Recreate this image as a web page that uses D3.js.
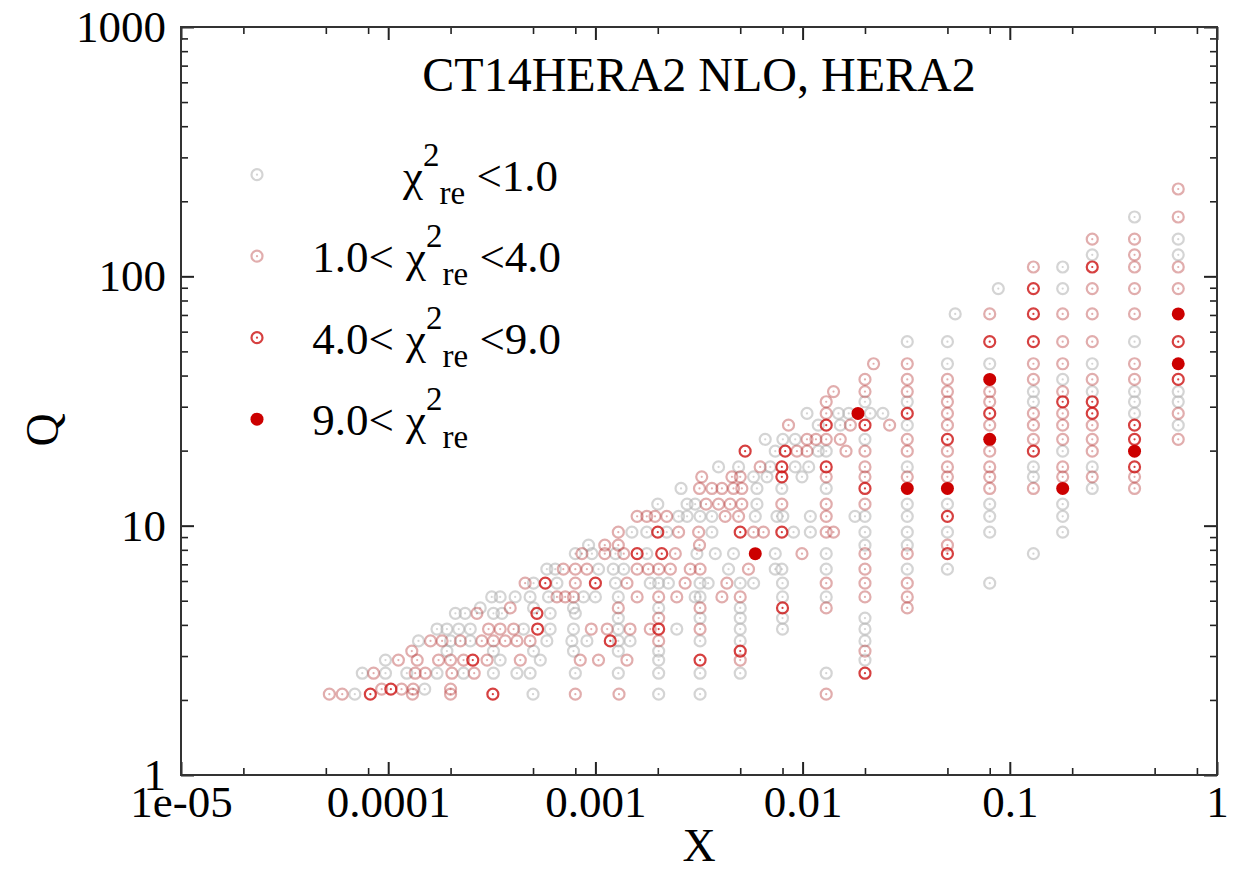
<!DOCTYPE html>
<html>
<head>
<meta charset="utf-8">
<script src="https://cdn.jsdelivr.net/npm/d3@7"></script>
<style>
body { margin: 0; background: #fff; }
text { font-family: "Liberation Serif", "Times New Roman", serif; fill: #000; }
</style>
</head>
<body>
<svg id="chart" width="1251" height="869"></svg>
<script>
// x-Q points of the HERA2 data, split by chi^2_re of each point
var chiBelow1 = [
  [6.9e-5,2.11],[5.0e-4,2.11],[2.02e-3,2.11],[3.2e-3,2.11],
  [1.5e-4,2.21],
  [7.5e-5,2.56],[9.7e-5,2.56],[1.23e-4,2.56],[1.72e-4,2.56],[2.31e-4,2.56],[3.22e-4,2.56],[4.18e-4,2.56],[4.84e-4,2.56],[8.0e-4,2.56],[1.29e-3,2.56],[2.02e-3,2.56],[3.2e-3,2.56],[5.0e-3,2.56],[1.3e-2,2.56],
  [9.7e-5,2.89],[3.47e-4,2.89],[5.42e-4,2.89],[2.02e-3,2.89],[0.02,2.89],
  [1.92e-4,3.14],[3.22e-4,3.14],[5.03e-4,3.14],[7.84e-4,3.14],[1.29e-3,3.14],[2.02e-3,3.14],
  [1.4e-4,3.45],[2.0e-4,3.45],[2.49e-4,3.45],[5.83e-4,3.45],[7.7e-4,3.45],[9.1e-4,3.45],[1.29e-3,3.45],[1.47e-3,3.45],[3.2e-3,3.45],[5.0e-3,3.45],[0.02,3.45],
  [1.72e-4,3.85],[1.92e-4,3.85],[2.19e-4,3.85],[2.49e-4,3.85],[4.5e-4,3.85],[6.05e-4,3.85],[7.84e-4,3.85],[1.29e-3,3.85],[2.47e-3,3.85],[5.0e-3,3.85],[8.0e-3,3.85],[0.02,3.85],
  [1.29e-3,4.26],[3.2e-3,4.26],[5.0e-3,4.26],[8.0e-3,4.26],[0.02,4.26],
  [2.11e-4,4.45],[2.35e-4,4.45],[3.22e-4,4.45],[3.54e-4,4.45],[6.05e-4,4.45],[8.0e-4,4.45],
  [2.78e-4,4.68],[5.03e-4,4.68],[7.84e-4,4.68],[2.02e-3,4.68],[5.0e-3,4.68],
  [3.16e-4,5.18],[3.47e-4,5.18],[4.1e-4,5.18],[4.84e-4,5.18],[5.94e-4,5.18],[8.76e-4,5.18],[1.0e-3,5.18],[1.29e-3,5.18],[3.03e-3,5.18],[3.2e-3,5.18],[8.0e-3,5.18],[1.3e-2,5.18],
  [5.03e-4,5.88],[6.52e-4,5.88],[1.25e-3,5.88],[1.84e-3,5.88],[2.02e-3,5.88],[2.25e-3,5.88],[3.2e-3,5.88],[3.5e-3,5.88],[5.0e-3,5.88],[5.8e-3,5.88],[8.0e-3,5.88],[0.08,5.88],
  [5.83e-4,6.69],[6.4e-4,6.69],[1.035e-3,6.69],[1.22e-3,6.69],[1.37e-3,6.69],[4.39e-3,6.69],[7.38e-3,6.69],[7.94e-3,6.69],[1.3e-2,6.69],[0.032,6.69],[0.05,6.69],
  [8.0e-4,7.72],[9.62e-4,7.72],[1.25e-3,7.72],[1.77e-3,7.72],[3.09e-3,7.72],[3.79e-3,7.72],[4.64e-3,7.72],[7.38e-3,7.72],[1.3e-2,7.72],[0.13,7.72],
  [9.27e-4,8.35],[0.02,8.35],[0.032,8.35],
  [1.5e-3,9.42],[1.77e-3,9.42],[2.21e-3,9.42],[3.65e-3,9.42],[9.04e-3,9.42],[1.09e-2,9.42],[0.02,9.42],[0.032,9.42],[0.05,9.42],[0.08,9.42],[0.18,9.42],
  [2.52e-3,10.9],[2.77e-3,10.9],[3.2e-3,10.9],[3.65e-3,10.9],[5.91e-3,10.9],[7.52e-3,10.9],[8.03e-3,10.9],[1.09e-2,10.9],[1.79e-2,10.9],[0.02,10.9],[0.032,10.9],[0.08,10.9],[0.18,10.9],
  [2.0e-3,12.2],[2.77e-3,12.2],[3.03e-3,12.2],[6.02e-3,12.2],[0.032,12.2],[0.05,12.2],[0.08,12.2],[0.18,12.2],
  [2.59e-3,14.1],[6.02e-3,14.1],[7.94e-3,14.1],[1.3e-2,14.1],[0.25,14.1],
  [5.8e-3,15.7],[6.73e-3,15.7],[9.93e-3,15.7],[0.13,15.7],
  [3.93e-3,17.2],[4.91e-3,17.2],[6.98e-3,17.2],[9.21e-3,17.2],[1.07e-2,17.2],[0.032,17.2],[0.13,17.2],[0.25,17.2],
  [7.38e-3,19.9],[1.19e-2,19.9],[1.3e-2,19.9],[0.18,19.9],
  [6.6e-3,22.2],[8.03e-3,22.2],[9.21e-3,22.2],[0.02,22.2],
  [1.19e-2,25.3],[1.52e-2,25.3],[0.032,25.3],[0.65,25.3],
  [1.05e-2,28.2],[1.49e-2,28.2],[1.67e-2,28.2],[2.12e-2,28.2],[2.44e-2,28.2],[0.40,28.2],
  [0.02,31.4],[0.032,31.4],[0.13,31.4],[0.40,31.4],[0.65,31.4],
  [0.13,34.5],[0.25,34.5],[0.40,34.5],[0.65,34.5],
  [0.18,38.6],
  [0.05,44.6],[0.08,44.6],[0.25,44.6],
  [0.032,54.7],[0.05,54.7],[0.40,54.7],
  [0.0545,70.7],
  [0.088,89.3],[0.18,89.3],
  [0.18,109],
  [0.25,122],[0.65,122],
  [0.65,141],
  [0.40,173]
];

var chi1to4 = [
  [5.2e-5,2.11],[6.0e-5,2.11],[1.31e-4,2.11],[2.0e-4,2.11],[8.0e-4,2.11],[1.3e-3,2.11],[1.3e-2,2.11],
  [9.3e-5,2.21],[1.16e-4,2.21],[1.32e-4,2.21],[2.0e-4,2.21],
  [8.5e-5,2.56],[1.35e-4,2.56],[1.51e-4,2.56],[2.03e-4,2.56],[2.6e-4,2.56],
  [1.12e-4,2.89],[1.38e-4,2.89],[1.75e-4,2.89],[2.0e-4,2.89],[2.31e-4,2.89],[3.0e-4,2.89],[4.34e-4,2.89],[8.45e-4,2.89],[1.035e-3,2.89],[1.42e-3,2.89],[5.0e-3,2.89],
  [1.3e-4,3.14],[0.02,3.14],
  [1.6e-4,3.45],[1.82e-4,3.45],[2.23e-4,3.45],[2.83e-4,3.45],[3.22e-4,3.45],[3.67e-4,3.45],[4.18e-4,3.45],[4.84e-4,3.45],[2.02e-3,3.45],
  [3.05e-4,3.85],[3.47e-4,3.85],[4.03e-4,3.85],[9.55e-4,3.85],[1.14e-3,3.85],[1.47e-3,3.85],[1.84e-3,3.85],[3.2e-3,3.85],
  [2.02e-3,4.26],
  [2.68e-4,4.45],
  [3.88e-4,4.68],[1.29e-3,4.68],[3.2e-3,4.68],[1.3e-2,4.68],[0.032,4.68],
  [6.52e-4,5.18],[7.15e-4,5.18],[7.84e-4,5.18],[1.59e-3,5.18],[2.02e-3,5.18],[2.47e-3,5.18],[4.08e-3,5.18],[5.0e-3,5.18],[0.02,5.18],[0.032,5.18],
  [4.58e-4,5.88],[8.0e-4,5.88],[1.42e-3,5.88],[2.71e-3,5.88],[4.31e-3,5.88],[1.3e-2,5.88],[0.02,5.88],[0.032,5.88],
  [7.0e-4,6.69],[8.0e-4,6.69],[9.1e-4,6.69],[1.59e-3,6.69],[1.8e-3,6.69],[2.02e-3,6.69],[2.3e-3,6.69],[2.87e-3,6.69],[3.2e-3,6.69],[5.48e-3,6.69],[0.02,6.69],
  [8.61e-4,7.72],[1.11e-3,7.72],[1.37e-3,7.72],[2.43e-3,7.72],[9.93e-3,7.72],[0.02,7.72],[0.032,7.72],
  [1.11e-3,8.35],[1.29e-3,8.35],[3.18e-3,8.35],[0.05,8.35],
  [1.29e-3,9.42],[2.52e-3,9.42],[3.15e-3,9.42],[5.8e-3,9.42],[6.47e-3,9.42],[1.3e-2,9.42],[1.41e-2,9.42],
  [1.59e-3,10.9],[1.77e-3,10.9],[1.94e-3,10.9],[2.21e-3,10.9],[4.23e-3,10.9],[4.91e-3,10.9],[1.3e-2,10.9],
  [3.42e-3,12.2],[3.93e-3,12.2],[4.47e-3,12.2],[5.09e-3,12.2],[7.94e-3,12.2],[1.3e-2,12.2],[0.02,12.2],
  [3.18e-3,14.1],[3.65e-3,14.1],[4.08e-3,14.1],[4.64e-3,14.1],[5.09e-3,14.1],[0.08,14.1],[0.13,14.1],[0.40,14.1],
  [3.26e-3,15.7],[4.56e-3,15.7],[5.0e-3,15.7],[1.3e-2,15.7],[0.02,15.7],[0.032,15.7],[0.05,15.7],[0.08,15.7],[0.18,15.7],[0.25,15.7],[0.40,15.7],
  [6.24e-3,17.2],[0.02,17.2],[0.05,17.2],[0.08,17.2],[0.18,17.2],
  [9.39e-3,19.9],[1.05e-2,19.9],[1.62e-2,19.9],[0.02,19.9],[0.032,19.9],[0.05,19.9],[0.08,19.9],[0.25,19.9],
  [1.05e-2,22.2],[1.16e-2,22.2],[1.3e-2,22.2],[1.52e-2,22.2],[0.032,22.2],[0.13,22.2],[0.18,22.2],[0.25,22.2],[0.65,22.2],
  [8.55e-3,25.3],[1.7e-2,25.3],[2.63e-2,25.3],[0.05,25.3],[0.08,25.3],[0.13,25.3],[0.18,25.3],[0.25,25.3],
  [1.3e-2,28.2],[0.05,28.2],[0.13,28.2],[0.18,28.2],[0.65,28.2],
  [1.3e-2,31.4],[0.05,31.4],[0.08,31.4],
  [1.41e-2,34.5],[0.02,34.5],[0.032,34.5],[0.05,34.5],[0.08,34.5],[0.18,34.5],
  [0.02,38.6],[0.032,38.6],[0.05,38.6],[0.13,38.6],[0.25,38.6],[0.40,38.6],
  [2.2e-2,44.6],[0.032,44.6],[0.13,44.6],[0.18,44.6],[0.40,44.6],
  [0.18,54.7],[0.25,54.7],
  [0.08,70.7],[0.18,70.7],[0.25,70.7],[0.40,70.7],
  [0.25,89.3],[0.40,89.3],[0.65,89.3],
  [0.13,109],[0.40,109],[0.65,109],
  [0.40,122],
  [0.25,141],[0.40,141],
  [0.65,173],
  [0.65,224]
];

var chi4to9 = [
  [8.2e-5,2.11],[3.2e-4,2.11],
  [1.03e-4,2.21],
  [0.02,2.56],
  [2.56e-4,2.89],[3.2e-3,2.89],
  [5.0e-3,3.14],
  [1.18e-3,3.45],
  [5.26e-4,3.85],[2.02e-3,3.85],
  [5.22e-4,4.45],
  [8.0e-3,4.68],
  [5.73e-4,5.88],[1.0e-3,5.88],
  [1.59e-3,7.72],[2.09e-3,7.72],[0.05,7.72],
  [2.0e-3,9.42],[5.0e-3,9.42],[7.94e-3,9.42],
  [0.05,10.9],
  [0.02,14.1],
  [7.94e-3,15.7],
  [7.94e-3,17.2],[1.3e-2,17.2],[0.40,17.2],
  [5.28e-3,19.9],[8.24e-3,19.9],[0.13,19.9],
  [0.05,22.2],[0.40,22.2],
  [1.3e-2,25.3],[0.02,25.3],[0.40,25.3],
  [0.032,28.2],[0.08,28.2],[0.25,28.2],
  [0.18,31.4],[0.25,31.4],
  [0.65,38.6],
  [0.08,54.7],[0.13,54.7],[0.65,54.7],
  [0.13,70.7],
  [0.13,89.3],
  [0.25,109]
];

var chiAbove9 = [
  [1.85e-2,28.2],[5.91e-3,7.72],[0.032,14.1],[0.05,14.1],[0.08,38.6],
  [0.08,22.2],[0.18,14.1],[0.40,19.9],[0.65,70.7],[0.65,44.6]
];

var xTicks = [1e-5, 1e-4, 1e-3, 1e-2, 1e-1, 1];
var xTickLabels = ["1e-05", "0.0001", "0.001", "0.01", "0.1", "1"];
var yTicks = [1, 10, 100, 1000];
var yTickLabels = ["1", "10", "100", "1000"];
var legendLow = ["", "1.0<", "4.0<", "9.0<"];
var legendHigh = ["<1.0", "<4.0", "<9.0", ""];

var width = 1251, height = 869;
var xLeft = 181, xRight = 1217, yTop = 27, yBottom = 775;

var svg = d3.select("#chart");

var x = d3.scaleLog().domain([1e-5, 1]).range([xLeft, xRight]);
var y = d3.scaleLog().domain([1, 1000]).range([yBottom, yTop]);

// minor ticks: 2,5,8 on x, 2..9 on y
var xMinor = [];
[1e-5, 1e-4, 1e-3, 1e-2, 1e-1].forEach(function(d){
  [2, 5, 8].forEach(function(m){ xMinor.push(d * m); });
});
var yMinor = [];
[1, 10, 100].forEach(function(d){
  for (var m = 2; m <= 9; m++) yMinor.push(d * m);
});

function styleAxis(g, w) {
  g.select(".domain").remove();
  g.selectAll(".tick line").attr("stroke", "#222").attr("stroke-width", w);
  g.selectAll(".tick text").style("font-size", "45px").attr("fill", "#000")
    .style("font-family", "'Liberation Serif', serif");
}

// bottom
svg.append("g").attr("transform", "translate(0," + yBottom + ")")
  .call(d3.axisBottom(x).tickValues(xTicks).tickFormat(function(d, i){ return xTickLabels[i]; })
    .tickSizeInner(-13).tickSizeOuter(0).tickPadding(10))
  .call(styleAxis, 2);
svg.append("g").attr("transform", "translate(0," + yBottom + ")")
  .call(d3.axisBottom(x).tickValues(xMinor).tickFormat("").tickSizeInner(-7).tickSizeOuter(0))
  .call(styleAxis, 1.6);
// top
svg.append("g").attr("transform", "translate(0," + yTop + ")")
  .call(d3.axisTop(x).tickValues(xTicks).tickFormat("").tickSizeInner(-13).tickSizeOuter(0))
  .call(styleAxis, 2);
svg.append("g").attr("transform", "translate(0," + yTop + ")")
  .call(d3.axisTop(x).tickValues(xMinor).tickFormat("").tickSizeInner(-7).tickSizeOuter(0))
  .call(styleAxis, 1.6);
// left
svg.append("g").attr("transform", "translate(" + xLeft + ",0)")
  .call(d3.axisLeft(y).tickValues(yTicks).tickFormat(function(d, i){ return yTickLabels[i]; })
    .tickSizeInner(-13).tickSizeOuter(0).tickPadding(15))
  .call(styleAxis, 2);
svg.append("g").attr("transform", "translate(" + xLeft + ",0)")
  .call(d3.axisLeft(y).tickValues(yMinor).tickFormat("").tickSizeInner(-7).tickSizeOuter(0))
  .call(styleAxis, 1.6);
// right
svg.append("g").attr("transform", "translate(" + xRight + ",0)")
  .call(d3.axisRight(y).tickValues(yTicks).tickFormat("").tickSizeInner(-13).tickSizeOuter(0))
  .call(styleAxis, 2);
svg.append("g").attr("transform", "translate(" + xRight + ",0)")
  .call(d3.axisRight(y).tickValues(yMinor).tickFormat("").tickSizeInner(-7).tickSizeOuter(0))
  .call(styleAxis, 1.6);

// frame
svg.append("rect")
  .attr("x", xLeft).attr("y", yTop)
  .attr("width", xRight - xLeft).attr("height", yBottom - yTop)
  .attr("fill", "none").attr("stroke", "#333").attr("stroke-width", 2);

// marker styles for the four chi2 classes
var styles = [
  { color: "#b0b0b0", opacity: 0.55, filled: false },
  { color: "#b02828", opacity: 0.38, filled: false },
  { color: "#cc1010", opacity: 0.8, filled: false },
  { color: "#cc0000", opacity: 1, filled: true }
];

function drawMarker(g, cx, cy, st) {
  if (st.filled) {
    g.append("circle").attr("cx", cx).attr("cy", cy).attr("r", 6.5)
      .attr("fill", st.color);
  } else {
    g.append("circle").attr("cx", cx).attr("cy", cy).attr("r", 5.5)
      .attr("fill", "none").attr("stroke", st.color)
      .attr("stroke-width", 2.2).attr("stroke-opacity", st.opacity);
    g.append("circle").attr("cx", cx).attr("cy", cy).attr("r", 1.1)
      .attr("fill", st.color).attr("fill-opacity", st.opacity);
  }
}

var plot = svg.append("g");
[chiBelow1, chi1to4, chi4to9, chiAbove9].forEach(function(set, k){
  var g = plot.append("g");
  set.forEach(function(d){
    drawMarker(g, x(d[0]), y(d[1]), styles[k]);
  });
});

// title
svg.append("text")
  .attr("x", (xLeft + xRight) / 2).attr("y", 91)
  .attr("text-anchor", "middle")
  .style("font-size", "48px")
  .text("CT14HERA2 NLO, HERA2");

// legend
var leg = svg.append("g");
styles.forEach(function(st, i){
  var base = 190.5 + i * 81.5;
  drawMarker(leg, 257, base - 15.8, st);
  if (legendLow[i] !== "") {
    leg.append("text").attr("x", 394).attr("y", base)
      .attr("text-anchor", "end").style("font-size", "45px")
      .text(legendLow[i]);
  }
  var t = leg.append("text").attr("x", i === 0 ? 403 : 406).attr("y", base)
    .style("font-size", "45px");
  t.append("tspan").text("\u03c7");
  t.append("tspan").attr("dy", -25).style("font-size", "33px").text("2");
  t.append("tspan").attr("dy", 38).style("font-size", "33px").text("re");
  if (legendHigh[i] !== "") {
    t.append("tspan").attr("dy", -13).style("font-size", "45px").text(" " + legendHigh[i]);
  }
});

// axis titles
svg.append("text")
  .attr("x", (xLeft + xRight) / 2).attr("y", 861)
  .attr("text-anchor", "middle")
  .style("font-size", "46px")
  .text("X");
svg.append("text")
  .attr("transform", "translate(58,430) rotate(-90)")
  .attr("text-anchor", "middle")
  .style("font-size", "46px")
  .text("Q");
</script>
</body>
</html>
